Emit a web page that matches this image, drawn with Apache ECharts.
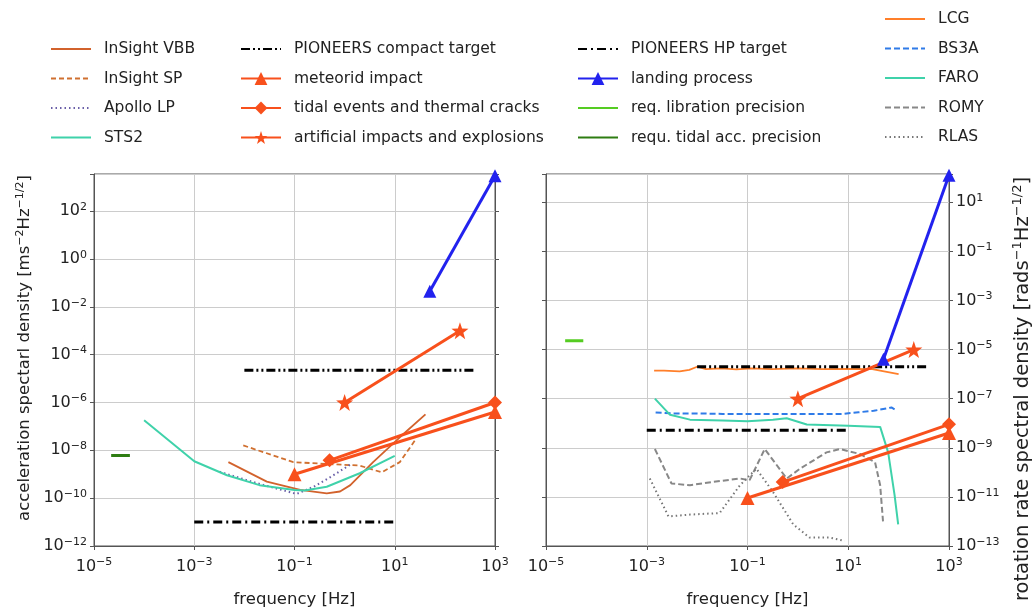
<!DOCTYPE html>
<html>
<head>
<meta charset="utf-8">
<script src="https://cdn.jsdelivr.net/npm/echarts@6/dist/echarts.min.js"></script>
<style>
html,body{margin:0;padding:0;background:#fff}
#chart{width:1033px;height:613px}
</style>
</head>
<body>
<div id="chart"></div>
<script>
// frequency [Hz], acceleration [m s^-2 Hz^-1/2], rotation rate [rad s^-1 Hz^-1/2]
var vbbFreq = [4.8e-3, 0.028, 0.13, 0.44, 0.81, 1.3, 3.7, 12.6, 41];
var vbbAcc = [3.2e-9, 4.9e-10, 2.2e-10, 1.6e-10, 1.9e-10, 3.5e-10, 3.2e-9, 3.5e-8, 3.2e-7];
var spFreq = [9.5e-3, 0.095, 0.32, 2, 5.5, 12.6, 25];
var spAcc = [1.6e-8, 3.2e-9, 2.8e-9, 2.3e-9, 1.2e-9, 3.2e-9, 2.5e-8];
var apolloFreq = [3.2e-3, 0.018, 0.11, 0.24, 0.6, 1.4];
var apolloAcc = [1.26e-9, 4.2e-10, 1.5e-10, 3e-10, 9.1e-10, 2.8e-9];
var sts2Freq = [1e-4, 1e-3, 4.5e-3, 0.02, 0.1, 0.16, 0.44, 2, 10];
var sts2Acc = [1.8e-7, 3.5e-9, 9.1e-10, 3.5e-10, 2.2e-10, 2.1e-10, 3e-10, 1.1e-9, 5.8e-9];

// targets and requirements
var compactFreq = [0.01, 400];
var compactAcc = [2.2e-5, 2.2e-5];
var compactRot = [2e-6, 2e-6];
var hpFreq = [1e-3, 10];
var hpAcc = [1e-11, 1e-11];
var hpRot = [5.2e-9, 5.2e-9];
var tidalReqFreq = [2.2e-5, 5.2e-5];
var tidalReqAcc = [6e-9, 6e-9];
var librationFreq = [2.4e-5, 5.5e-5];
var librationRot = [2.3e-5, 2.3e-5];

// expected signals
var meteoridFreq = [0.1, 1000];
var meteoridAcc = [1e-9, 4e-7];
var meteoridRot = [9e-12, 4e-9];
var tidalFreq = [0.5, 1000];
var tidalAcc = [3.8e-9, 1e-6];
var tidalRot = [4e-11, 9e-9];
var artificialFreq = [1, 200];
var artificialAcc = [1e-6, 1e-3];
var artificialRot = [1e-7, 1e-5];
var landingFreq = [50, 1000];
var landingAcc = [0.045, 3000];
var landingRot = [4e-6, 125];

// rotation sensors
var lcgFreq = [1.4e-3, 2.2e-3, 4.5e-3, 7e-3, 0.01, 0.015, 0.03, 0.06, 0.12, 0.3, 1, 3, 10, 30, 100];
var lcgRot = [1.4e-6, 1.4e-6, 1.3e-6, 1.5e-6, 2e-6, 1.6e-6, 1.7e-6, 1.55e-6, 1.7e-6, 1.6e-6, 1.7e-6, 1.6e-6, 1.65e-6, 1.6e-6, 1e-6];
var bs3aFreq = [1.5e-3, 3.2e-3, 0.01, 0.032, 0.1, 0.32, 1, 3.2, 8, 16, 32, 72, 91];
var bs3aRot = [2.75e-8, 2.5e-8, 2.5e-8, 2.4e-8, 2.4e-8, 2.35e-8, 2.35e-8, 2.35e-8, 2.4e-8, 2.8e-8, 3.2e-8, 4.4e-8, 3.3e-8];
var faroFreq = [1.45e-3, 2.9e-3, 7.2e-3, 0.032, 0.1, 0.32, 0.6, 1.5, 10, 43, 62, 83, 98];
var faroRot = [1e-7, 2.2e-8, 1.4e-8, 1.3e-8, 1.2e-8, 1.4e-8, 1.6e-8, 8.9e-9, 7.9e-9, 7.1e-9, 6.5e-10, 1.2e-11, 7.6e-13];
var romyFreq = [1.45e-3, 3.1e-3, 7.2e-3, 0.021, 0.071, 0.11, 0.22, 0.6, 1.1, 3.7, 6.8, 17, 34, 43, 49];
var romyRot = [8.9e-10, 3.5e-11, 3e-11, 4.1e-11, 5.6e-11, 4.8e-11, 8.9e-10, 5.6e-11, 1.4e-10, 6.5e-10, 8.9e-10, 5.6e-10, 2.6e-10, 3e-11, 1e-12];
var rlasFreq = [1.15e-3, 2.7e-3, 7.2e-3, 0.028, 0.071, 0.15, 0.32, 0.81, 1.7, 4.3, 8.5];
var rlasRot = [5.6e-11, 1.6e-12, 1.9e-12, 2.2e-12, 3e-11, 1.4e-10, 1.6e-11, 7.6e-13, 2.2e-13, 2.2e-13, 1.6e-13];

var FONT = 'DejaVu Sans';
var TXT = '#222';
var EVENT = '#f8501c';
var STAR = 'path://M0,-10L2.35,-3.24L9.51,-3.09L3.8,1.24L5.88,8.09L0,4L-5.88,8.09L-3.8,1.24L-9.51,-3.09L-2.35,-3.24Z';
// legend entries drawn with a marker
var MARKED = ['meteorid impact', 'tidal events and thermal cracks', 'artificial impacts and explosions', 'landing process'];

function supRich(size){
	return {
		b: {fontSize: size, fontFamily: FONT, color: TXT},
		s: {fontSize: Math.round(size * 0.68), fontFamily: FONT, color: TXT, padding: [0, 0, Math.round(size * 0.52), 0]}
	};
}
var SUP = supRich(16);

function pow10(v){
	var r = Math.round(v);
	if (Math.abs(v - r) > 1e-6) return '';
	return '{b|10}{s|' + String(r).replace('-', '\u2212') + '}';
}

function line(name, freqs, vals, g, color, width, dash, symbol, size){
	return {
		name: name,
		type: 'line',
		xAxisIndex: g,
		yAxisIndex: g * 2,
		data: freqs.map(function(f, i){ return [Math.log10(f), Math.log10(vals[i])]; }),
		symbol: symbol || 'none',
		showSymbol: !!symbol,
		symbolSize: size || 0,
		lineStyle: {color: color, width: width, type: dash || 'solid'},
		itemStyle: {color: color},
		emphasis: {disabled: true},
		silent: true
	};
}

function xAxis(g){
	return {
		gridIndex: g, type: 'value', min: -5, max: 3, interval: 2,
		axisLine: {show: true, onZero: false, lineStyle: {color: '#555'}},
		axisTick: {show: true, length: 4, lineStyle: {color: '#555'}},
		splitLine: {show: true, lineStyle: {color: '#cccccc'}},
		axisLabel: {formatter: pow10, rich: SUP, margin: 11, showMaxLabel: true, showMinLabel: true},
		name: 'frequency [Hz]', nameLocation: 'middle', nameGap: 45,
		nameTextStyle: {fontFamily: FONT, fontSize: 16.5, color: TXT}
	};
}

function yAxis(g, pos, min, max, labels){
	return {
		gridIndex: g, type: 'value', position: pos, min: min, max: max, interval: 2,
		axisLine: {show: true, onZero: false, lineStyle: {color: '#555'}},
		axisTick: {show: true, length: 4, lineStyle: {color: '#555'}},
		splitLine: {show: labels, lineStyle: {color: '#cccccc'}},
		axisLabel: {show: labels, formatter: pow10, rich: SUP, margin: 7}
	};
}

function legend(left, top, names){
	return {
		orient: 'vertical', left: left, top: top, padding: 0,
		itemWidth: 40, itemHeight: 16, itemGap: 13.5, selectedMode: false,
		textStyle: {fontFamily: FONT, fontSize: 15.5, color: TXT, lineHeight: 16, padding: [0, 0, 0, 8]},
		data: names.map(function(n){
			return MARKED.indexOf(n) >= 0 ? {name: n} : {name: n, itemStyle: {opacity: 0}};
		})
	};
}

var myChart = echarts.init(document.getElementById('chart'));
var option = {
	animation: false,
	backgroundColor: '#fff',
	grid: [
		{left: 94, top: 174, width: 401, height: 378, show: true, borderColor: '#555', borderWidth: 1},
		{left: 546, top: 174, width: 403, height: 378, show: true, borderColor: '#555', borderWidth: 1}
	],
	legend: [
		legend(50, 41, ['InSight VBB', 'InSight SP', 'Apollo LP', 'STS2']),
		legend(240, 41, ['PIONEERS compact target', 'meteorid impact', 'tidal events and thermal cracks', 'artificial impacts and explosions']),
		legend(577, 41, ['PIONEERS HP target', 'landing process', 'req. libration precision', 'requ. tidal acc. precision']),
		legend(884, 11, ['LCG', 'BS3A', 'FARO', 'ROMY', 'RLAS'])
	],
	xAxis: [xAxis(0), xAxis(1)],
	yAxis: [
		yAxis(0, 'left', -12, 3.55, true),
		yAxis(0, 'right', -12, 3.55, false),
		yAxis(1, 'right', -13, 2.15, true),
		yAxis(1, 'left', -13, 2.15, false)
	],
	graphic: [
		{type: 'text', x: 25, y: 348, rotation: Math.PI / 2,
			style: {text: 'acceleration spectarl density [ms{s|\u22122}Hz{s|\u22121/2}]', rich: supRich(16.5),
				fontFamily: FONT, fontSize: 16.5, fill: TXT, align: 'center', verticalAlign: 'middle'}},
		{type: 'text', x: 1023, y: 389, rotation: Math.PI / 2,
			style: {text: 'rotation rate spectral density [rads{s|\u22121}Hz{s|\u22121/2}]', rich: supRich(19.5),
				fontFamily: FONT, fontSize: 19.5, fill: TXT, align: 'center', verticalAlign: 'middle'}}
	],
	series: [
		// acceleration
		line('InSight VBB', vbbFreq, vbbAcc, 0, '#d2622c', 1.8),
		line('InSight SP', spFreq, spAcc, 0, '#d07030', 1.8, [5, 3]),
		line('Apollo LP', apolloFreq, apolloAcc, 0, '#6a5fa8', 2, [1.5, 3]),
		line('STS2', sts2Freq, sts2Acc, 0, '#3fd2aa', 2),
		line('PIONEERS compact target', compactFreq, compactAcc, 0, '#000', 3, [9, 3, 2, 3, 2, 3]),
		line('PIONEERS HP target', hpFreq, hpAcc, 0, '#000', 3, [9, 4, 2, 4]),
		line('requ. tidal acc. precision', tidalReqFreq, tidalReqAcc, 0, '#2e7d12', 3),
		line('meteorid impact', meteoridFreq, meteoridAcc, 0, EVENT, 3, null, 'triangle', 14),
		line('tidal events and thermal cracks', tidalFreq, tidalAcc, 0, EVENT, 3, null, 'diamond', 14),
		line('artificial impacts and explosions', artificialFreq, artificialAcc, 0, EVENT, 3, null, STAR, 17),
		line('landing process', landingFreq, landingAcc, 0, '#2222ee', 3, null, 'triangle', 13),
		// rotation
		line('LCG', lcgFreq, lcgRot, 1, '#ff7f2a', 1.8),
		line('BS3A', bs3aFreq, bs3aRot, 1, '#2f7be8', 2, [6, 3]),
		line('FARO', faroFreq, faroRot, 1, '#3fd2aa', 2),
		line('ROMY', romyFreq, romyRot, 1, '#888888', 2, [6, 3]),
		line('RLAS', rlasFreq, rlasRot, 1, '#777777', 2, [1.5, 3]),
		line('PIONEERS compact target', compactFreq, compactRot, 1, '#000', 3, [9, 3, 2, 3, 2, 3]),
		line('PIONEERS HP target', hpFreq, hpRot, 1, '#000', 3, [9, 4, 2, 4]),
		line('req. libration precision', librationFreq, librationRot, 1, '#55cc22', 3),
		line('meteorid impact', meteoridFreq, meteoridRot, 1, EVENT, 3, null, 'triangle', 14),
		line('tidal events and thermal cracks', tidalFreq, tidalRot, 1, EVENT, 3, null, 'diamond', 14),
		line('artificial impacts and explosions', artificialFreq, artificialRot, 1, EVENT, 3, null, STAR, 17),
		line('landing process', landingFreq, landingRot, 1, '#2222ee', 3, null, 'triangle', 13)
	]
};
myChart.setOption(option);
</script>
</body>
</html>
